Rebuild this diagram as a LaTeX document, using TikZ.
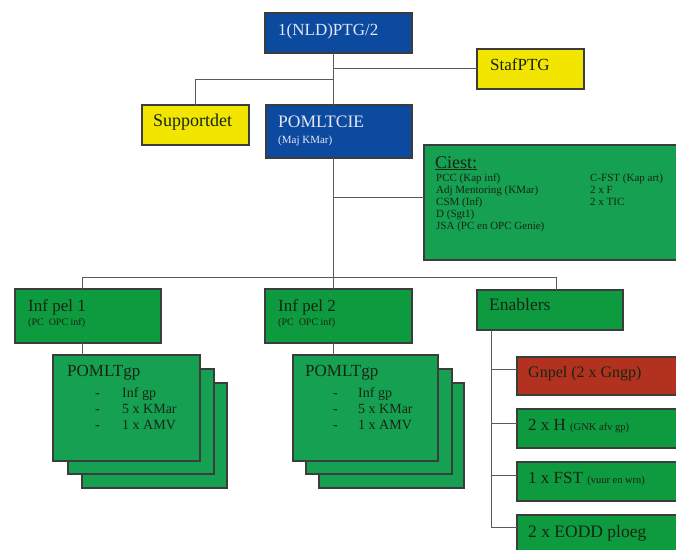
\documentclass[tikz,border=0pt]{standalone}
\usepackage{fontspec}
\usetikzlibrary{calc}
\setmainfont{Liberation Serif}
\definecolor{bluebox}{HTML}{0B4A9E}
\definecolor{yellowbox}{HTML}{F2E600}
\definecolor{greenA}{HTML}{0E9A3E}
\definecolor{greenB}{HTML}{16A052}
\definecolor{redbox}{HTML}{B3321F}
\definecolor{bordc}{HTML}{3C3C3C}
\definecolor{linec}{HTML}{5A5A5A}
\definecolor{darktxt}{HTML}{152515}
\definecolor{lighttxt}{HTML}{E6E6F5}
\begin{document}
\begin{tikzpicture}[x=1pt,y=-1pt,
  box/.style={draw=bordc, line width=1.2pt, inner sep=0pt, outer sep=0pt, anchor=north west, rectangle},
  conn/.style={draw=linec, line width=1pt},
  txt/.style={anchor=base west, inner sep=0pt, text=darktxt, font=\fontsize{17}{19}\selectfont},
  ltxt/.style={txt, text=lighttxt},
  small/.style={anchor=base west, inner sep=0pt, text=darktxt, font=\fontsize{10}{11}\selectfont},
  list/.style={anchor=base west, inner sep=0pt, text=darktxt, font=\fontsize{11}{12}\selectfont},
  item/.style={anchor=base west, inner sep=0pt, text=darktxt, font=\fontsize{14}{16}\selectfont}]
\useasboundingbox (0,0) rectangle (676,549);
\clip (0,0) rectangle (676,549);

% ---------- boxes ----------
\node[box, fill=bluebox, minimum width=147pt, minimum height=40pt] (top) at (265,13) {};
\node[box, fill=yellowbox, minimum width=107pt, minimum height=40pt] (staf) at (477,49) {};
\node[box, fill=yellowbox, minimum width=107pt, minimum height=40pt] (sup) at (142,105) {};
\node[box, fill=bluebox, minimum width=146pt, minimum height=53pt] (cie) at (266,105) {};
\node[box, fill=greenB, minimum width=270pt, minimum height=115pt] (ciest) at (424,145) {};
\node[box, fill=greenA, minimum width=146pt, minimum height=54pt] (ip1) at (15,289) {};
\node[box, fill=greenA, minimum width=147pt, minimum height=54pt] (ip2) at (265,289) {};
\node[box, fill=greenA, minimum width=146pt, minimum height=40pt] (enab) at (477,290) {};

\node[box, fill=greenB, minimum width=145pt, minimum height=105pt] (gp1c) at (82,383) {};
\node[box, fill=greenB, minimum width=146pt, minimum height=105pt] (gp1b) at (68,369) {};
\node[box, fill=greenB, minimum width=147pt, minimum height=106pt] (gp1a) at (53,355) {};
\node[box, fill=greenB, minimum width=145pt, minimum height=105pt] (gp2c) at (319,383) {};
\node[box, fill=greenB, minimum width=146pt, minimum height=105pt] (gp2b) at (306,369) {};
\node[box, fill=greenB, minimum width=145pt, minimum height=106pt] (gp2a) at (293,355) {};

\node[box, fill=redbox, minimum width=180pt, minimum height=38pt] (gn) at (517,357) {};
\node[box, fill=greenA, minimum width=180pt, minimum height=39pt] (hh) at (517,409) {};
\node[box, fill=greenA, minimum width=180pt, minimum height=39pt] (fst) at (517,462) {};
\node[box, fill=greenA, minimum width=180pt, minimum height=40pt] (eodd) at (517,515) {};

% ---------- connectors ----------
\coordinate (j1) at (333,68);
\coordinate (j2) at (195,79);
\coordinate (j3) at (333,197);
\coordinate (busL) at (82,277);
\coordinate (busR) at (556,277);
\coordinate (bus2) at (333,277);
\coordinate (ev) at (491,330);
\coordinate (bgn) at ($(gn.north west)+(0,12)$);
\coordinate (bhh) at ($(hh.north west)+(0,14)$);
\coordinate (bfst) at ($(fst.north west)+(0,13)$);
\coordinate (beodd) at ($(eodd.north west)+(0,12)$);

\draw[conn] (top.south -| j1) -- (cie.north -| j1);
\draw[conn] (j1) -- (staf.west |- j1);
\draw[conn] (j1 |- j2) -- (j2) -- (sup.north -| j2);
\draw[conn] (cie.south -| j3) -- (bus2);
\draw[conn] (j3) -- (ciest.west |- j3);
\draw[conn] (busL) -- (busR);
\draw[conn] (busL) -- (ip1.north -| busL);
\draw[conn] (ip1.south -| busL) -- (gp1a.north -| busL);
\draw[conn] (bus2) -- (ip2.north -| bus2);
\draw[conn] (ip2.south -| bus2) -- (gp2a.north -| bus2);
\draw[conn] (busR) -- (enab.north -| busR);
\draw[conn] (enab.south -| ev) -- (beodd -| ev) -- (beodd);
\draw[conn] (bgn -| ev) -- (bgn);
\draw[conn] (bhh -| ev) -- (bhh);
\draw[conn] (bfst -| ev) -- (bfst);

% ---------- texts ----------
\node[ltxt] (t1) at (278,35) {1(NLD)PTG/2};
\node[txt] (t2) at (490,70) {StafPTG};
\node[txt, font=\fontsize{18}{20}\selectfont] (t3) at (153,126) {Supportdet};
\node[ltxt, font=\fontsize{17.5}{19}\selectfont] (t4) at (278,127) {POMLTCIE};
\node[ltxt, font=\fontsize{11}{12}\selectfont] (t5) at (278,143) {(Maj KMar)};

\node[txt, font=\fontsize{18}{20}\selectfont] (c0) at (435,168) {\underline{Ciest:}};
\node[list] (c1) at (436,181) {PCC (Kap inf)};
\node[list] (c2) at (436,193) {Adj Mentoring (KMar)};
\node[list] (c3) at (436,205) {CSM (Inf)};
\node[list] (c4) at (436,217) {D (Sgt1)};
\node[list] (c5) at (436,229) {JSA (PC en OPC Genie)};
\node[list] (c6) at (590,181) {C-FST (Kap art)};
\node[list] (c7) at (590,193) {2 x F};
\node[list] (c8) at (590,205) {2 x TIC};

\node[txt] (i1) at (28,311) {Inf pel 1};
\node[small] (i1s) at (28,325) {(PC\ \ OPC inf)};
\node[txt] (i2) at (278,311) {Inf pel 2};
\node[small] (i2s) at (278,325) {(PC\ \ OPC inf)};
\node[txt, font=\fontsize{17.5}{19}\selectfont] (e0) at (489,310) {Enablers};

\node[txt] (g1) at (67,376) {POMLTgp};
\node[item] (g1d1) at (95,397) {-};
\node[item] (g1d2) at (95,413) {-};
\node[item] (g1d3) at (95,429) {-};
\node[item] (g1a) at (122,397) {Inf gp};
\node[item] (g1b) at (122,413) {5 x KMar};
\node[item] (g1c) at (122,429) {1 x AMV};

\node[txt] (g2) at (305,376) {POMLTgp};
\node[item] (g2d1) at (333,397) {-};
\node[item] (g2d2) at (333,413) {-};
\node[item] (g2d3) at (333,429) {-};
\node[item] (g2a) at (358,397) {Inf gp};
\node[item] (g2b) at (358,413) {5 x KMar};
\node[item] (g2c) at (358,429) {1 x AMV};

\node[txt, font=\fontsize{16}{18}\selectfont] (n1) at (528,377) {Gnpel (2 x Gngp)};
\node[txt] (n2) at (528,430) {2 x H \fontsize{10.5}{11}\selectfont(GNK afv gp)};
\node[txt] (n3) at (528,483) {1 x FST \fontsize{10.5}{11}\selectfont(vuur en wrn)};
\node[txt, font=\fontsize{17.5}{19}\selectfont] (n4) at (528,537) {2 x EODD ploeg};
\end{tikzpicture}
\end{document}
